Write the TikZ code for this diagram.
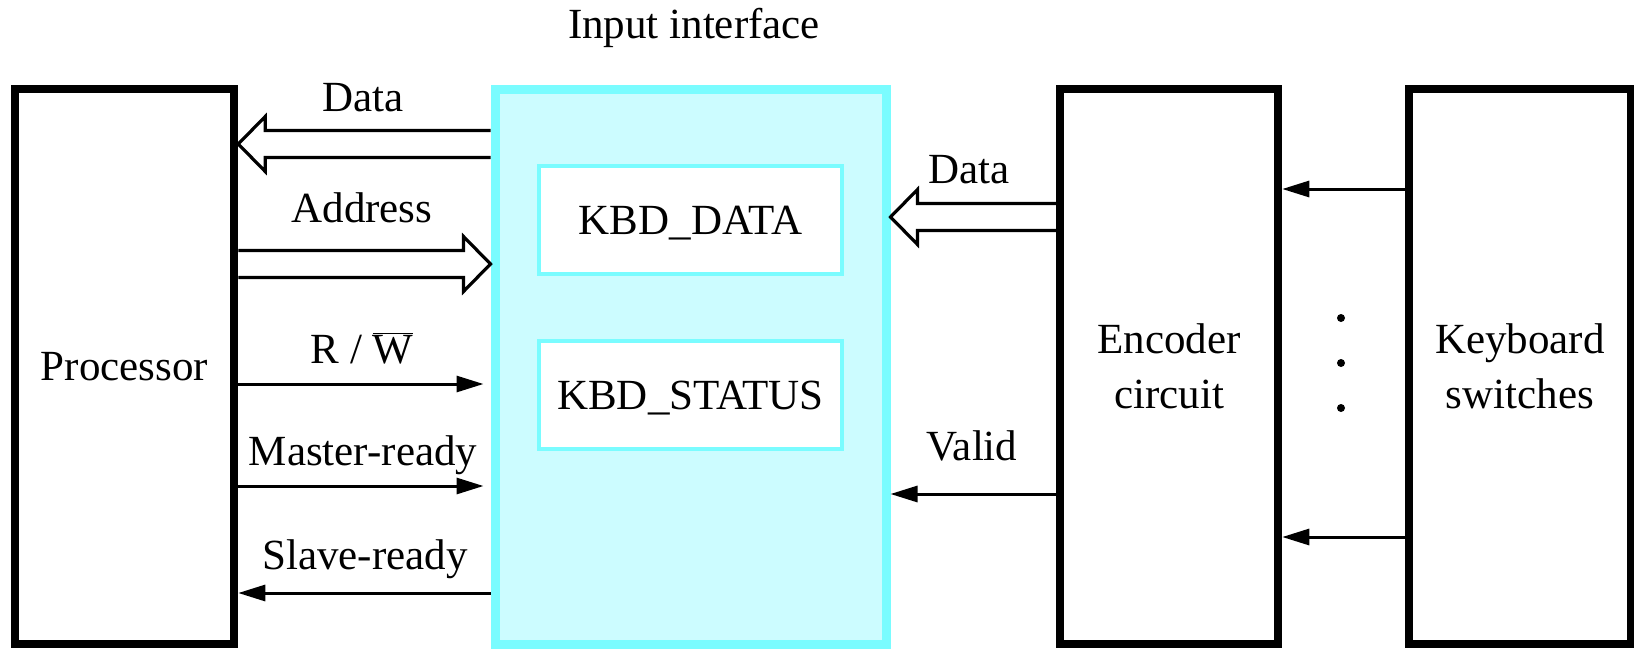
\documentclass[tikz,border=0pt]{standalone}
\usepackage{fontspec}
\setmainfont{Liberation Serif}
\usetikzlibrary{arrows.meta,calc}
\definecolor{cyanline}{RGB}{122,252,255}
\definecolor{cyanfill}{RGB}{204,252,255}
\newcommand\busleft[2]{\draw[bus] ([yshift=13.5pt]#1) -- ([xshift=27pt,yshift=13.5pt]#2) -- ([xshift=27pt,yshift=27.5pt]#2) -- (#2) -- ([xshift=27pt,yshift=-27.5pt]#2) -- ([xshift=27pt,yshift=-13.5pt]#2) -- ([yshift=-13.5pt]#1);}
\newcommand\busright[2]{\draw[bus] ([yshift=13.5pt]#1) -- ([xshift=-27pt,yshift=13.5pt]#2) -- ([xshift=-27pt,yshift=27.5pt]#2) -- (#2) -- ([xshift=-27pt,yshift=-27.5pt]#2) -- ([xshift=-27pt,yshift=-13.5pt]#2) -- ([yshift=-13.5pt]#1);}
\begin{document}
\begin{tikzpicture}[x=1pt,y=-1pt,
  every node/.style={font=\fontsize{43}{55}\selectfont, inner sep=0pt},
  blk/.style={draw=black, line width=8.5pt, fill=white, align=center, minimum height=555pt},
  iface/.style={draw=cyanline, line width=9pt, fill=cyanfill, minimum height=555pt},
  reg/.style={draw=cyanline, line width=4pt, fill=white, minimum width=303pt, minimum height=108pt, text height=28.5pt, text depth=0pt},
  wire/.style={line width=3pt, -{Triangle[length=27pt,width=16pt]}},
  bus/.style={line width=3.2pt, miter limit=20},
  lbl/.style={anchor=base},
  dotm/.style={circle, fill=black, minimum size=8pt}
]
\useasboundingbox (0,0) rectangle (1634,649);

% blocks
\node[blk, minimum width=219pt] (proc) at (124.5,366.5) {Processor};
\node[iface, minimum width=391pt] (ifc) at (690.5,366.5) {};
\node[reg] (kdata) at (690.5,220) {KBD\_DATA};
\node[reg] (kstat) at (690.5,395) {KBD\_STATUS};
\node[blk, minimum width=218pt] (enc) at (1169,366.5) {Encoder\\circuit};
\node[blk, minimum width=222pt] (kbd) at (1520,366.5) {Keyboard\\switches};

% signal levels
\coordinate (yD1) at (0,144);
\coordinate (yAd) at (0,264);
\coordinate (yRW) at (0,384);
\coordinate (yMR) at (0,486);
\coordinate (ySR) at (0,593);
\coordinate (yD2) at (0,217);
\coordinate (yV) at (0,494);
\coordinate (yK1) at (0,189);
\coordinate (yK2) at (0,537);

% bus end points
\coordinate (d1s) at (ifc.west |- yD1);
\coordinate (d1t) at (proc.east |- yD1);
\coordinate (ads) at (proc.east |- yAd);
\coordinate (adt) at (ifc.west |- yAd);
\coordinate (d2s) at (enc.west |- yD2);
\coordinate (d2t) at (ifc.east |- yD2);

\busleft{d1s}{d1t}
\busright{ads}{adt}
\busleft{d2s}{d2t}

% single wires
\draw[wire, shorten >=7pt] (proc.east |- yRW) -- (ifc.west |- yRW);
\draw[wire, shorten >=7pt] (proc.east |- yMR) -- (ifc.west |- yMR);
\draw[wire] (ifc.west |- ySR) -- (proc.east |- ySR);
\draw[wire] (enc.west |- yV) -- (ifc.east |- yV);
\draw[wire] (kbd.west |- yK1) -- (enc.east |- yK1);
\draw[wire] (kbd.west |- yK2) -- (enc.east |- yK2);

% dots
\node[dotm] (dt1) at (1341,318) {};
\node[dotm] (dt2) at (1341,363) {};
\node[dotm] (dt3) at (1341,408) {};

% labels
\node[lbl] (lII) at (694,38.5) {Input interface};
\node[lbl] (lD1) at (363,111) {Data};
\node[lbl] (lAd) at (362,222) {Address};
\node[lbl] (lRW) at (362,363) {R / $\overline{\hbox{W}}$};
\node[lbl] (lMR) at (363,465) {Master-ready};
\node[lbl] (lSR) at (365,569) {Slave-ready};
\node[lbl] (lD2) at (969,183) {Data};
\node[lbl] (lV) at (972,460) {Valid};
\end{tikzpicture}
\end{document}
